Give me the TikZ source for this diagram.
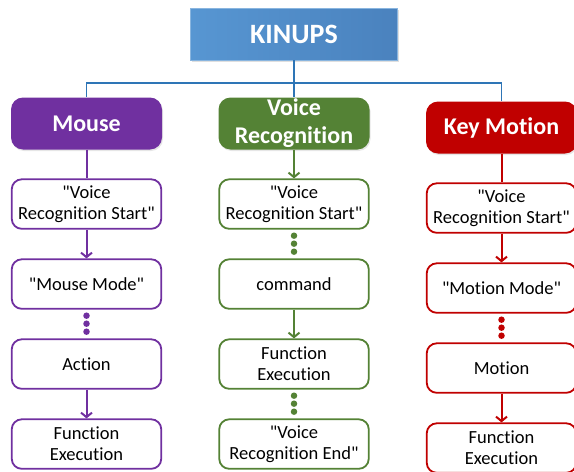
\documentclass[tikz,border=0pt]{standalone}
\usepackage{fontspec}
\setmainfont{Carlito}[Ligatures={TeXOff,NoCommon}]
\usetikzlibrary{arrows.meta,shadows,positioning}
\definecolor{kinblue}{HTML}{5796D2}
\definecolor{kinblueb}{HTML}{4A82BE}
\definecolor{linkblue}{HTML}{2E75B6}
\definecolor{mousepurple}{HTML}{7030A0}
\definecolor{voicegreen}{HTML}{548235}
\definecolor{keyred}{HTML}{C00000}

\begin{document}
\begin{tikzpicture}[
		x=1pt,y=1pt,
		grow=down,
		level distance=89.5pt,
		sibling distance=207.5pt,
		node distance=28.7pt,
		edge from parent/.style={draw=linkblue,line width=1.8pt},
		edge from parent path={(\tikzparentnode.south) -- ++(0,-23) -| (\tikzchildnode.north)},
		rootbox/.style={draw=kinblue!70!white,line width=.6pt,left color=kinblue,right color=kinblueb,
			minimum width=207pt,minimum height=52pt,text=white,font=\fontsize{28}{32}\selectfont\bfseries,
			drop shadow={opacity=.25,shadow xshift=1pt,shadow yshift=-1.5pt}},
		headbox/.style={rounded corners=12pt,minimum width=151pt,minimum height=52pt,inner sep=0pt,
			align=center,text=white,font=\fontsize{24}{28}\selectfont\bfseries,
			drop shadow={opacity=.2,shadow xshift=1pt,shadow yshift=-1.5pt}},
		stepbox/.style={fill=white,line width=1.8pt,rounded corners=10pt,minimum width=149.5pt,
			minimum height=49.5pt,inner sep=0pt,align=center,text=black,font=\fontsize{18.5}{21}\selectfont},
		link/.style={line width=2pt},
		arrowlink/.style={link,-{Straight Barb[length=4.5pt,width=11pt]}},
		dotlink/.style={line width=6.5pt,line cap=round,dash pattern=on 0pt off 8pt,
			shorten <=6pt,shorten >=6pt}
	]
		\useasboundingbox (0,0) rectangle (574,-472);
		\node[rootbox] (kinups) at (294,-34) {KINUPS}
			child { node[headbox,fill=mousepurple] (mouse) {Mouse} }
			child { node[headbox,fill=voicegreen] (voice) {Voice\\Recognition} }
			child[yshift=-4pt] { node[headbox,fill=keyred] (key) {Key Motion} };

		% mouse column
		\node[stepbox,draw=mousepurple,below=of mouse] (mousestart) {"Voice\\Recognition Start"};
		\node[stepbox,draw=mousepurple,below=of mousestart] (mousemode) {"Mouse Mode"};
		\node[stepbox,draw=mousepurple,below=of mousemode] (mouseaction) {Action};
		\node[stepbox,draw=mousepurple,below=of mouseaction] (mouseexec) {Function\\Execution};
		\draw[mousepurple,link] (mouse) -- (mousestart);
		\draw[mousepurple,arrowlink] (mousestart) -- (mousemode);
		\draw[mousepurple,dotlink] (mousemode) -- (mouseaction);
		\draw[mousepurple,arrowlink] (mouseaction) -- (mouseexec);

		% voice column
		\node[stepbox,draw=voicegreen,below=of voice] (voicestart) {"Voice\\Recognition Start"};
		\node[stepbox,draw=voicegreen,below=of voicestart] (voicecmd) {command};
		\node[stepbox,draw=voicegreen,below=of voicecmd] (voiceexec) {Function\\Execution};
		\node[stepbox,draw=voicegreen,below=of voiceexec] (voiceend) {"Voice\\Recognition End"};
		\draw[voicegreen,arrowlink] (voice) -- (voicestart);
		\draw[voicegreen,dotlink] (voicestart) -- (voicecmd);
		\draw[voicegreen,arrowlink] (voicecmd) -- (voiceexec);
		\draw[voicegreen,dotlink] (voiceexec) -- (voiceend);

		% key motion column
		\node[stepbox,draw=keyred,below=of key] (keystart) {"Voice\\Recognition Start"};
		\node[stepbox,draw=keyred,below=of keystart] (keymode) {"Motion Mode"};
		\node[stepbox,draw=keyred,below=of keymode] (keymotion) {Motion};
		\node[stepbox,draw=keyred,below=of keymotion] (keyexec) {Function\\Execution};
		\draw[keyred,link] (key) -- (keystart);
		\draw[keyred,arrowlink] (keystart) -- (keymode);
		\draw[keyred,dotlink] (keymode) -- (keymotion);
		\draw[keyred,arrowlink] (keymotion) -- (keyexec);
	\end{tikzpicture}
\end{document}
